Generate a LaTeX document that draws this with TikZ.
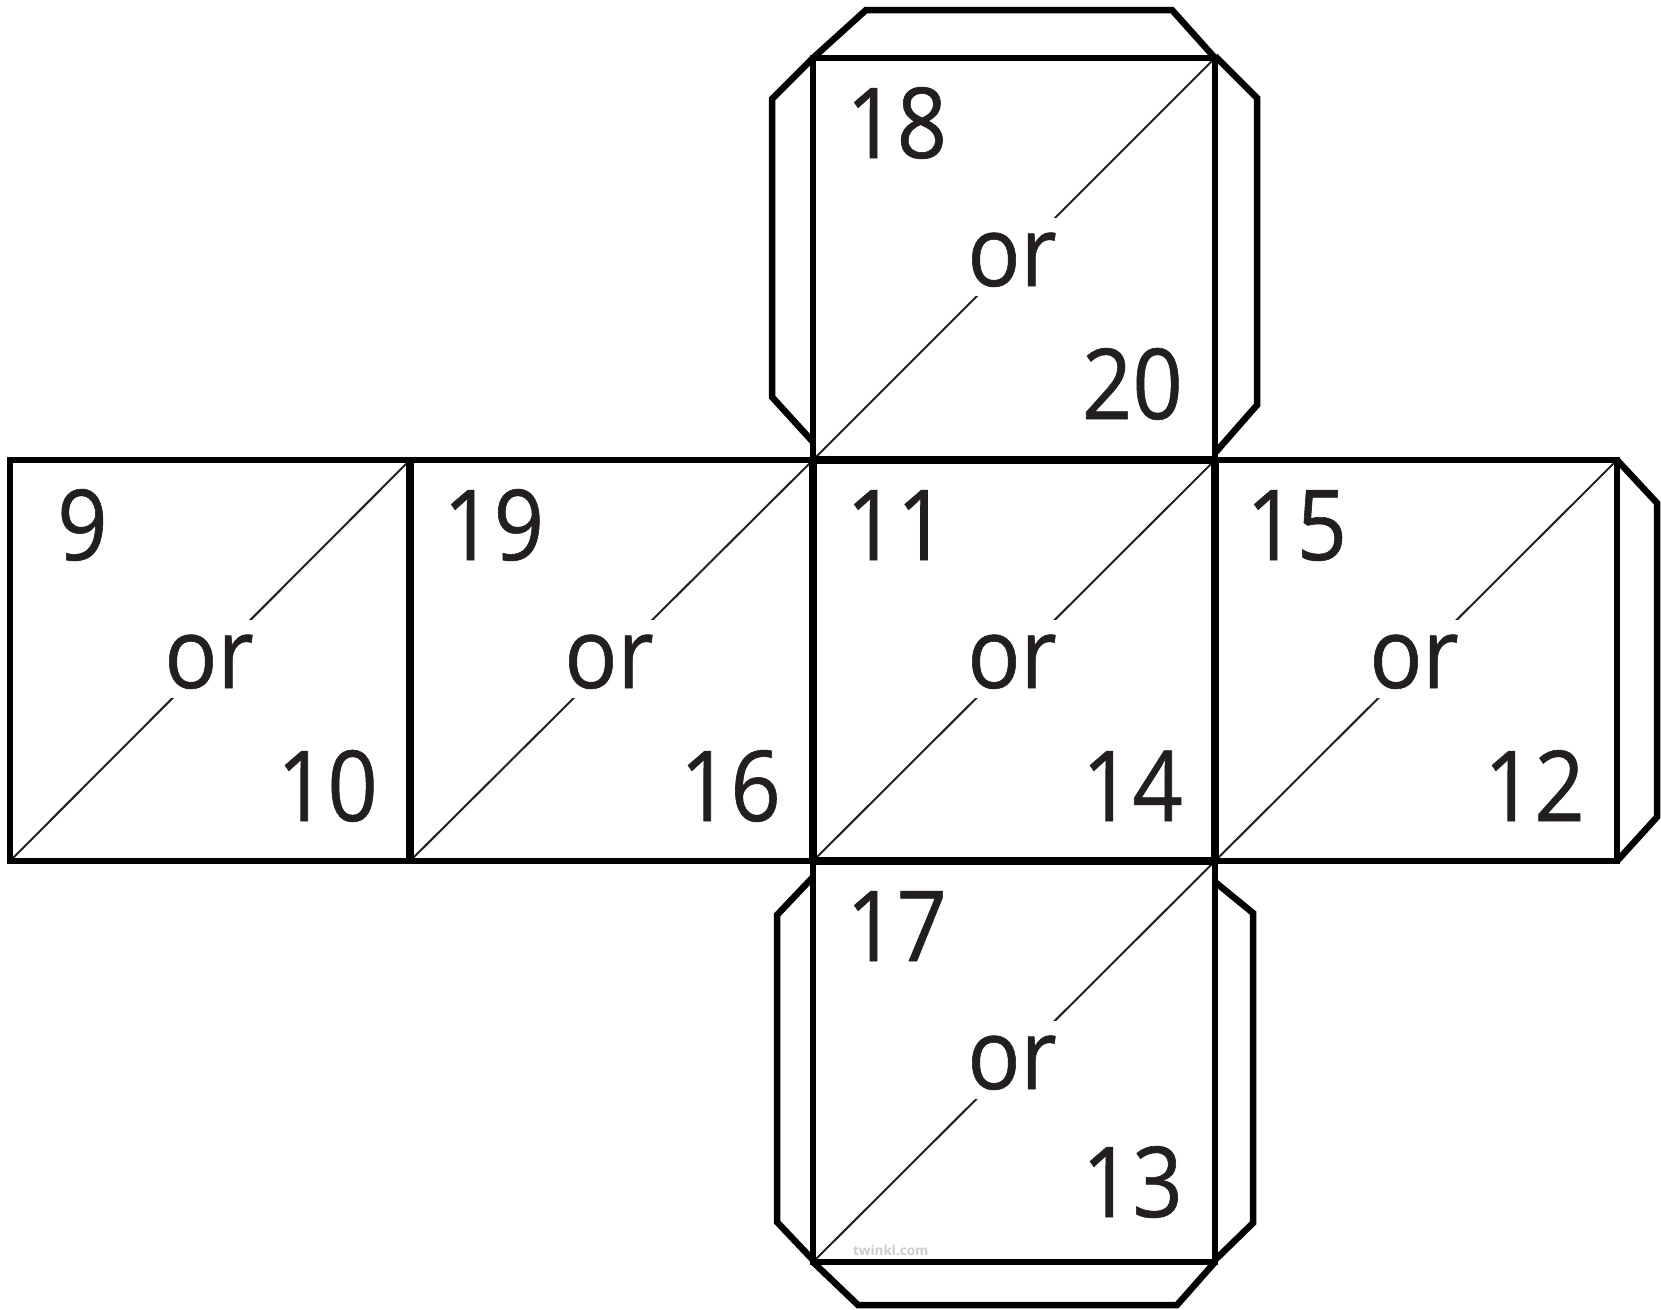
\documentclass[tikz,border=0pt]{standalone}
\usepackage{fontspec}
\setmainfont{Open Sans}
\newfontfamily\facefont[FakeStretch=0.9,FakeBold=0.6]{Open Sans}
\definecolor{ink}{RGB}{35,31,32}
\definecolor{wm}{RGB}{205,205,205}
\tikzset{
  edge/.style={line width=6.5pt, line join=miter, draw=black},
  divider/.style={line width=8.5pt, draw=black},
  diag/.style={line width=2pt, draw=ink},
  num/.style={font=\facefont\fontsize{98}{110}\selectfont, inner sep=0pt, text=ink},
  ortext/.style={font=\facefont\fontsize{98}{110}\selectfont, fill=white, inner xsep=3pt, inner ysep=0pt, text height=68pt, text depth=10pt, text=ink},
}
\newcommand\dieface[9]{%
  \coordinate (#1bl) at (#2,#5);
  \coordinate (#1tr) at (#4,#3);
  \draw[diag] (#1bl) -- (#1tr);
  \node[ortext, anchor=base] (#1or) at (#2+199,#3+228) {or};
  \node[num, anchor=base west] (#1a) at (#2+33+#8,#3+100) {#6};
  \node[num, anchor=base east] (#1b) at (#4-32,#3+361+#9) {#7};
}
\begin{document}
\begin{tikzpicture}[x=1pt,y=-1pt]
\useasboundingbox[fill=white] (0,0) rectangle (1661,1309);
% faces: name, x1, y1, x2, y2, top label, bottom label, top label x shift, bottom label y shift
\dieface{a}{10}{460}{410}{861}{9}{10}{14}{0}
\dieface{b}{410}{460}{813}{861}{19}{16}{0}{0}
\dieface{c}{813}{460}{1215}{861}{11}{14}{0}{0}
\dieface{d}{1215}{460}{1617}{861}{15}{12}{-2}{0}
\dieface{t}{813}{58}{1215}{460}{18}{20}{0}{0}
\dieface{u}{813}{861}{1215}{1262}{17}{13}{0}{-5}
% outlines
\draw[edge] (10,460) rectangle (1617,861);
\draw[edge] (813,58) rectangle (1215,460);
\draw[edge] (813,861) rectangle (1215,1262);
\draw[divider] (410,460) -- (410,861);
\draw[divider] (813,460) -- (813,861);
\draw[divider] (1215,460) -- (1215,861);
\draw[divider] (813,460) -- (1215,460);
\draw[divider] (813,861) -- (1215,861);
% tabs
\draw[edge] (813,58) -- (866,10) -- (1172,10) -- (1215,58);
\draw[edge] (813,58) -- (772,99) -- (772,397) -- (813,442);
\draw[edge] (1215,56) -- (1257,98) -- (1257,405) -- (1215,453);
\draw[edge] (813,877) -- (777,915) -- (777,1222) -- (813,1260);
\draw[edge] (1215,882) -- (1253,913) -- (1253,1223) -- (1215,1260);
\draw[edge] (813,1262) -- (858,1305) -- (1177,1305) -- (1215,1262);
\draw[edge] (1617,460) -- (1657,503) -- (1657,817) -- (1617,861);
% watermark
\node[font=\bfseries\fontsize{13.5}{16}\selectfont, text=wm, inner sep=0pt, anchor=base west] (wmark) at (853,1255) {twinkl.com};
\end{tikzpicture}
\end{document}
